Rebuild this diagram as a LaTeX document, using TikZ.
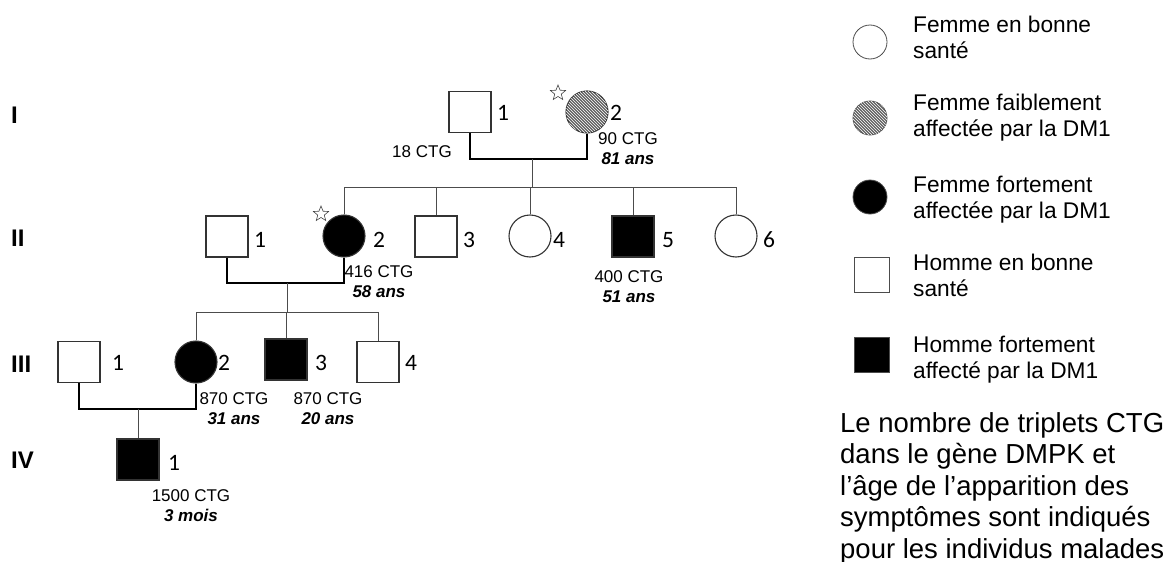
\documentclass[tikz,border=0pt]{standalone}
\usepackage{fontspec}
\setmainfont{Liberation Sans}
\newfontfamily\numfont{Carlito}
\usetikzlibrary{shapes.geometric,patterns}

\begin{document}
\begin{tikzpicture}[x=1pt,y=-1pt,
  indiv/.style={draw=black!80, line width=1.1pt, inner sep=0pt, fill=white},
  hom/.style={indiv, rectangle, minimum width=42pt, minimum height=41pt},
  fem/.style={indiv, circle, minimum size=42pt},
  sick/.style={fill=black},
  mild/.style={fill=black!62, postaction={pattern=north west lines, pattern color=white}},
  marriage/.style={draw=black, line width=1.2pt},
  sib/.style={draw=black!70, line width=0.9pt},
  num/.style={font=\numfont\fontsize{23.5}{24}\selectfont, inner sep=0pt, anchor=base west},
  gen/.style={font=\bfseries\fontsize{24}{26}\selectfont, inner sep=0pt, anchor=base west},
  data/.style={font=\fontsize{17}{19.5}\selectfont, inner sep=0pt, align=center, anchor=north},
  proband/.style={star, star points=5, star point ratio=2.3, draw=black!75, line width=0.6pt,
                  minimum size=16pt, inner sep=0pt},
  legtxt/.style={font=\fontsize{22.7}{26}\selectfont, inner sep=0pt, align=left, anchor=north west},
  legcirc/.style={indiv, circle, minimum size=34pt, line width=0.8pt, draw=black!70},
  legsq/.style={indiv, rectangle, minimum size=35pt, line width=0.8pt, draw=black!70},
]
\useasboundingbox (0,0) rectangle (1173,562);

% generation numbers
\node[gen] (gI)   at (11,123) {I};
\node[gen] (gII)  at (11,246) {II};
\node[gen] (gIII) at (11,372) {III};
\node[gen] (gIV)  at (11,468) {IV};

% ---- generation I
\node[hom] (I1) at (470,112) {};
\node[fem, mild] (I2) at (587,112) {};
\node[num] (nI1) at (497,120) {1};
\node[num] (nI2) at (610,120) {2};
\node[proband] (stI2) at (558,93) {};
\node[data, anchor=base] (dI1) at (422,157) {18 CTG};
\node[data] (dI2) at (628,132.5) {90 CTG\\{\bfseries\itshape 81 ans}};

% ---- generation II
\node[hom] (II1) at (227,236.5) {};
\node[fem, sick] (II2) at (344,236) {};
\node[hom] (II3) at (436,236.5) {};
\node[fem] (II4) at (530,236) {};
\node[hom, sick] (II5) at (633,236.5) {};
\node[fem] (II6) at (736,236) {};
\node[num] (nII1) at (254,247) {1};
\node[num] (nII2) at (373,247) {2};
\node[num] (nII3) at (463,247) {3};
\node[num] (nII4) at (553,247) {4};
\node[num] (nII5) at (662,247) {5};
\node[num] (nII6) at (763,247) {6};
\node[proband] (stII2) at (321,214) {};
\node[data] (dII2) at (379,265.5) {416 CTG\\{\bfseries\itshape 58 ans}};
\node[data] (dII5) at (629,270.5) {400 CTG\\{\bfseries\itshape 51 ans}};

% ---- generation III
\node[hom] (III1) at (79,362) {};
\node[fem, sick] (III2) at (196,362) {};
\node[hom, sick] (III3) at (286,359.5) {};
\node[hom] (III4) at (378,362) {};
\node[num] (nIII1) at (112,370) {1};
\node[num] (nIII2) at (218,370) {2};
\node[num] (nIII3) at (315,370) {3};
\node[num] (nIII4) at (405,370) {4};
\node[data] (dIII2) at (234,392.5) {870 CTG\\{\bfseries\itshape 31 ans}};
\node[data] (dIII3) at (328,392.5) {870 CTG\\{\bfseries\itshape 20 ans}};

% ---- generation IV
\node[hom, sick] (IV1) at (138,459.5) {};
\node[num] (nIV1) at (168,470) {1};
\node[data] (dIV1) at (191,489.5) {1500 CTG\\{\bfseries\itshape 3 mois}};

% ---- couples and sibships
\coordinate (uI) at (532,159);
\coordinate (sI) at (532,187);
\draw[marriage] (I1.south) |- (uI) -| (I2.south);
\draw[sib] (uI) -- (sI);
\draw[sib] (II2.north |- sI) -- (II6.north |- sI);
\foreach \c in {II2,II3,II4,II5,II6} \draw[sib] (\c.north) -- (\c.north |- sI);

\coordinate (uII) at (287,283);
\coordinate (sII) at (287,312);
\draw[marriage] (II1.south) |- (uII) -| (II2.south);
\draw[sib] (uII) -- (sII);
\draw[sib] (III2.north |- sII) -- (III4.north |- sII);
\foreach \c in {III2,III3,III4} \draw[sib] (\c.north) -- (\c.north |- sII);

\coordinate (uIII) at (138,409);
\draw[marriage] (III1.south) |- (uIII) -| (III2.south);
\draw[sib] (uIII) -- (IV1.north);

% ---- legend
\node[legcirc] (L1) at (870,42) {};
\node[legcirc, mild] (L2) at (870,118) {};
\node[legcirc, sick] (L3) at (870,197) {};
\node[legsq] (L4) at (871.5,274.5) {};
\node[legsq, sick] (L5) at (871.5,355) {};
\node[legtxt] (T1) at (913,15.5)  {Femme en bonne\\santé};
\node[legtxt] (T2) at (913,93.5)  {Femme faiblement\\affectée par la DM1};
\node[legtxt] (T3) at (913,175.5) {Femme fortement\\affectée par la DM1};
\node[legtxt] (T4) at (913,253.5) {Homme en bonne\\santé};
\node[legtxt] (T5) at (913,335.5) {Homme fortement\\affecté par la DM1};

\node[font=\fontsize{27.5}{31.5}\selectfont, inner sep=0pt, align=left, anchor=north west] (note)
  at (840,412) {Le nombre de triplets CTG\\dans le gène DMPK et\\l’âge de l’apparition des\\symptômes sont indiqués\\pour les individus malades};
\end{tikzpicture}
\end{document}
